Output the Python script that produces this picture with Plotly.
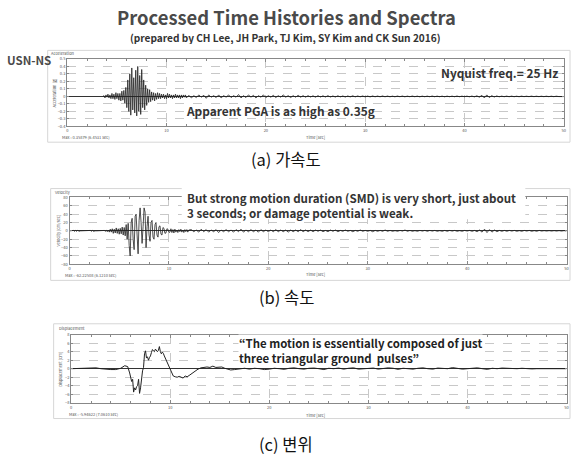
import plotly.graph_objects as go

W, H = 574, 462

# ---------------- data ----------------
time_ticks = [0, 10, 20, 30, 40, 50]

# Acceleration [g]
acc_t0, acc_dt = 3.6, 0.1
acc_strong = [
    0.00, 0.01, -0.02, 0.02, -0.01, 0.03, -0.02, 0.02, -0.03, 0.04,
    -0.03, 0.03, -0.04, 0.05, -0.03, 0.04, -0.05, 0.04, -0.06, 0.07,
    -0.05, 0.08, -0.09, 0.12, -0.15, 0.22, -0.20, 0.30, -0.25, 0.38,
    -0.18, 0.25, -0.22, 0.35, -0.26, 0.40, -0.20, 0.28, -0.24, 0.36,
    -0.15, 0.22, -0.18, 0.15, -0.12, 0.10, -0.08, 0.09, -0.07, 0.06,
    -0.05, 0.05, -0.06, 0.04, -0.04, 0.05, -0.03, 0.04, -0.03, 0.03,
    -0.02, 0.03, -0.03, 0.02, -0.03, 0.04, -0.02, 0.03, -0.02, 0.02,
    -0.03, 0.02, -0.02, 0.03, -0.02, 0.02, -0.02, 0.02, -0.03, 0.02,
    -0.02, 0.02, -0.01, 0.02, -0.02,
]
acc_tail_t0, acc_tail_dt = 12.25, 0.25
acc_tail = [
    0.015, -0.02, 0.01, -0.015, 0.02, -0.01, 0.015, -0.025, 0.02, -0.01, 0.01, -0.015, 0.02, -0.02, 0.01, -0.01,
    0.02, -0.015, 0.01, -0.01, 0.025, -0.02, 0.01, -0.015, 0.02, -0.01, 0.015, -0.02, 0.01, -0.01, 0.02, -0.015,
    0.01, -0.01, 0.015, -0.015, 0.01, -0.01, 0.02, -0.01, 0.01, -0.015, 0.01, -0.01, 0.015, -0.01, 0.01, -0.01,
    0.01, -0.008, 0.008, -0.01, 0.01, -0.008, 0.008, -0.008, 0.01, -0.008, 0.006, -0.008, 0.008, -0.006, 0.006, -0.008,
    0.006, -0.006, 0.008, -0.006, 0.006, -0.005, 0.006, -0.006, 0.005, -0.006, 0.006, -0.005, 0.005, -0.005, 0.006, -0.005,
    0.005, -0.005, 0.004, -0.005, 0.005, -0.004, 0.005, -0.005, 0.004, -0.004, 0.005, -0.004, 0.004, -0.005, 0.004, -0.004,
    0.004, -0.004, 0.005, -0.004, 0.004, -0.004, 0.004, -0.005, 0.004, -0.004, 0.004, -0.004, 0.005, -0.004, 0.004, -0.004,
    0.004, -0.005, 0.005, -0.006, 0.008, -0.01, 0.015, -0.02, 0.02, -0.015, 0.01, -0.008, 0.006, -0.005, 0.004, -0.004,
    0.004, -0.004, 0.004, -0.004, 0.003, -0.004, 0.004, -0.003, 0.003, -0.003, 0.004, -0.003, 0.003, -0.003, 0.003, -0.003,
    0.003, -0.003, 0.003, -0.003, 0.003, -0.002, 0.002, -0.002,
]
acc_ticks = [-0.4, -0.3, -0.2, -0.1, 0.0, 0.1, 0.2, 0.3, 0.4, 0.5]

# Velocity [cm/sec]
vel_t0, vel_dt = 0.0, 0.1
vel_strong = [
    0, 0, 0, 0, 1, -1, 1, -1, 1, 0,
    -1, 0, 0, 0, 0, 0, 0, 0, 0, 0,
    0, 1, -1, 1, -1, 0, 0, 0, 0, 0,
    0, 0, 0, 0, 0, 1, -1, 1, -2, 2,
    -3, 4, -3, 5, -6, 4, -5, 7, -6, 5,
    -8, 6, -7, 9, -10, 8, -12, 15, -20, 18,
    -35, -60, 20, 30, -20, -45, 35, 40, -10, -55,
    25, 55, 20, -30, 10, 55, 45, -40, 10, 35,
    -10, -25, 20, 25, -15, -20, 15, 20, -10, -15,
    10, 12, -8, -10, 8, 6, -6, -5, 5, 4,
    -4, -3, 5, -4, 3, -5, 4, -3, 2, -4,
    3, -2, 4, -3, 2, -4, 3, -2, 3, -3,
    2,
]
vel_tail_t0, vel_tail_dt = 12.25, 0.25
vel_tail = [
    3, -2, 2, -3, 4, -2, 3, -3, 2, -2, 3, -4, 2, -2, 3, -2,
    2, -3, 3, -2, 4, -3, 2, -2, 3, -2, 2, -3, 3, -2, 2, -2,
    2, -2, 3, -2, 2, -2, 2, -3, 2, -2, 2, -2, 3, -2, 2, -2,
    2, -2, 2, -1, 2, -2, 1, -2, 2, -1, 2, -2, 1, -1, 2, -1,
    1, -2, 1, -1, 2, -1, 1, -1, 1, -2, 1, -1, 1, -1, 2, -1,
    1, -1, 0.5, -1, 1, -0.5, 2, -1, 1, -1, 0.5, -1, 1, -0.5, 1, -1,
    1, -0.5, 1, -1, 0.5, -1, 1, -1, 1, -0.5, 1, -1, 0.5, -1, 1, -0.5,
    1, -1, 1, -2, 2, -3, 4, -4, 3, -3, 2, -2, 1, -1, 1, -1,
    1, -0.5, 1, -1, 0.5, -1, 1, -0.5, 1, -1, 0.5, -1, 1, -0.5, 0.5, -0.5,
    0.5, -0.5, 0.5, -0.5, 0.5, -0.5, 0.5, -0.5,
]
vel_ticks = [-80, -60, -40, -20, 0, 20, 40, 60, 80]

# Displacement [cm]
disp_t = [0, 0.5, 1.0, 1.5, 2.0, 2.5, 3.0, 3.5, 4.0, 4.5, 5.0, 5.4, 5.7, 5.9,
          6.1, 6.2, 6.3, 6.4, 6.5, 6.6, 6.7, 6.8, 6.9, 7.0, 7.1, 7.2, 7.3, 7.4,
          7.5, 7.6, 7.7, 7.8, 7.9, 8.0, 8.1, 8.2, 8.3, 8.4, 8.5, 8.6, 8.7, 8.8,
          8.9, 9.0, 9.1, 9.2, 9.3, 9.4, 9.5, 9.7, 9.9, 10.1, 10.3, 10.5, 10.7,
          10.9, 11.1, 11.3, 11.5, 11.7, 11.9, 12.2, 12.5, 12.8, 13.1, 13.4, 13.7,
          14.0, 14.3, 14.6, 14.9, 15.2, 15.5, 15.8, 16.1, 16.5, 17.0, 17.5, 18.0,
          18.5, 19.0, 19.5, 20.0]
disp_v = [0.0, 0.05, 0.15, 0.25, 0.3, 0.2, 0.0, -0.15, -0.2, -0.2, 0.1, 0.7, 0.5, -1.0,
          -3.0, -2.5, -5.5, -4.5, -5.0, -4.2, -4.0, -2.5, -5.8, -4.5, -1.5, -0.5, 0.3, 3.5,
          4.2, 2.5, 2.8, 2.0, 2.6, 3.0, 3.8, 4.5, 4.2, 4.0, 4.6, 4.3, 4.0, 4.3,
          5.2, 4.0, 3.5, 3.9, 3.6, 3.0, 2.5, 1.2, 0.3, -0.8, -1.7, -1.9, -2.0,
          -1.8, -2.0, -2.2, -1.7, -1.9, -1.6, -1.0, -0.6, -0.1, 0.2, 0.3, 0.4,
          0.3, 0.6, 0.3, 0.4, 0.4, 0.1, -0.1, -0.3, -0.2, -0.1, 0.1, -0.1,
          0.1, 0.0, -0.2, -0.1]
disp_tail_t0, disp_tail_dt = 20.5, 0.5
disp_tail = [
    0.1, 0.0, -0.15, 0.1, 0.2, 0.0, -0.1, 0.1, 0.15, 0.0,
    -0.2, 0.1, 0.0, 0.15, -0.1, 0.1, 0.2, -0.1, 0.0, 0.1,
    0.15, -0.1, 0.0, 0.2, 0.1, -0.15, 0.1, 0.0, -0.1, 0.1,
    0.2, 0.0, -0.1, 0.15, 0.1, 0.0, 0.25, 0.1, -0.1, 0.0,
    0.1, 0.2, 0.0, -0.15, 0.1, 0.0, 0.15, 0.1, -0.1, 0.0,
    0.1, 0.0, -0.05, 0.0, 0.0, 0.0, 0.0, 0.0, 0.0, 0.0,
]
disp_ticks = [-8, -6, -4, -2, 0, 2, 4, 6, 8]


def sampled(t0, dt, vals):
    return [round(t0 + i * dt, 4) for i in range(len(vals))]


acc_x = sampled(acc_t0, acc_dt, acc_strong) + sampled(acc_tail_t0, acc_tail_dt, acc_tail)
acc_y = acc_strong + acc_tail
vel_x = sampled(vel_t0, vel_dt, vel_strong) + sampled(vel_tail_t0, vel_tail_dt, vel_tail)
vel_y = vel_strong + vel_tail
disp_x = disp_t + sampled(disp_tail_t0, disp_tail_dt, disp_tail)
disp_y = disp_v + disp_tail

# ---------------- helpers ----------------
FONT = "Noto Sans CJK KR"


def px(x):
    return x / W


def py(y):
    return 1 - y / H


fig = go.Figure()
line_style = dict(color="#222222", width=0.8)
fig.add_trace(go.Scatter(x=acc_x, y=acc_y, mode="lines", line=line_style, xaxis="x", yaxis="y", showlegend=False))
fig.add_trace(go.Scatter(x=vel_x, y=vel_y, mode="lines", line=line_style, xaxis="x2", yaxis="y2", showlegend=False))
fig.add_trace(go.Scatter(x=disp_x, y=disp_y, mode="lines", line=dict(color="#222222", width=1.0), xaxis="x3", yaxis="y3", showlegend=False))


def xaxis(domain, anchor):
    return dict(domain=domain, anchor=anchor, range=[0, 50], tickvals=time_ticks,
                ticks="inside", ticklen=3, tickcolor="#888", showline=True, linecolor="#888",
                linewidth=1, mirror="ticks", showgrid=True, gridcolor="#c8c8c8", griddash="dash",
                gridwidth=1, zeroline=False, tickfont=dict(size=4, color="#555", family=FONT),
                minor=dict(dtick=2, ticks="inside", ticklen=2, tickcolor="#888", showgrid=False),
                fixedrange=True)


def yaxis(domain, anchor, rng, ticks):
    return dict(domain=domain, anchor=anchor, range=rng, tickvals=ticks,
                ticks="inside", ticklen=2, tickcolor="#888", showline=True, linecolor="#888",
                linewidth=1, mirror="ticks", showgrid=True, gridcolor="#c8c8c8", griddash="dash",
                gridwidth=1, zeroline=True, zerolinecolor="#333", zerolinewidth=1.2,
                tickfont=dict(size=4, color="#555", family=FONT), fixedrange=True)


fig.update_layout(
    width=W, height=H, margin=dict(l=0, r=0, t=0, b=0),
    paper_bgcolor="white", plot_bgcolor="white",
    font=dict(family=FONT),
    xaxis=xaxis([px(66.7), px(566.7)], "y"),
    yaxis=yaxis([py(124), py(55.7)], "x", [-0.4, 0.5], acc_ticks),
    xaxis2=xaxis([px(69), px(569.5)], "y2"),
    yaxis2=yaxis([py(263.7), py(196)], "x2", [-80, 80], vel_ticks),
    xaxis3=xaxis([px(70.7), px(569.5)], "y3"),
    yaxis3=yaxis([py(404), py(335)], "x3", [-8, 8], disp_ticks),
)

# outer chart frames
shapes = []
for (x0, y0, x1, y1) in [(47, 47, 573, 140), (50, 187, 573, 280), (53, 324, 573, 420)]:
    shapes.append(dict(type="rect", xref="paper", yref="paper", x0=px(x0), x1=px(x1), y0=py(y1), y1=py(y0),
                       line=dict(color="#d6d6d6", width=1), fillcolor="rgba(0,0,0,0)", layer="below"))
# white box behind panel (b) note
shapes.append(dict(type="rect", xref="paper", yref="paper", x0=px(182), x1=px(528), y0=py(218), y1=py(186),
                   line=dict(width=0), fillcolor="white", layer="above"))
fig.update_layout(shapes=shapes)

anns = []


def ann(text, x, y, size, color="#333", xanchor="left", angle=0, bg=None, pad=1, height=None):
    d = dict(text=text, x=px(x), y=py(y), xref="paper", yref="paper", xanchor=xanchor, yanchor="middle",
             showarrow=False, textangle=angle, font=dict(size=size, color=color, family=FONT), align="left",
             borderpad=pad)
    if bg:
        d["bgcolor"] = bg
    if height:
        d["height"] = height
    anns.append(d)


ann("<b>Processed Time Histories and Spectra</b>", 287, 13.5, 18.4, "#4a4a4a", "center", pad=0, height=22)
ann("<b>(prepared by CH Lee, JH Park, TJ Kim, SY Kim and CK Sun 2016)</b>", 286, 34, 10.1, "#333", "center", pad=0, height=13)
ann("<b>USN-NS</b>", 4, 57, 11.5, "#4a4a4a")

# tiny chart labels
ann("Acceleration", 49, 49.5, 4, "#555", pad=0)
ann("Acceleration [g]", 53, 90, 4, "#555", "center", -90, pad=0)
ann("Max : 0.35879 (6.4531 sec)", 60, 135, 4, "#555", pad=0)
ann("Time [sec]", 317, 135, 4, "#555", "center", pad=0)

ann("Velocity", 53, 190, 4, "#555", pad=0)
ann("Velocity [cm/sec]", 57, 230, 4, "#555", "center", -90, pad=0)
ann("Max : -62.22508 (6.1210 sec)", 63, 275, 4, "#555", pad=0)
ann("Time [sec]", 317, 274, 4, "#555", "center", pad=0)

ann("Displacement", 57, 328.5, 4, "#555", pad=0)
ann("Displacement [cm]", 60, 370, 4, "#555", "center", -90, pad=0)
ann("Max : -5.94622 (7.0610 sec)", 67, 415, 4, "#555", pad=0)
ann("Time [sec]", 317, 416, 4, "#555", "center", pad=0)

# notes
ann("<b>Nyquist freq.= 25 Hz</b>", 441, 69, 11.9, "#333")
ann("<b>Apparent PGA is as high as 0.35g</b>", 184, 108, 11.9, "#333")
ann("<b>But strong motion duration (SMD) is very short, just about</b><br>"
    "<b>3 seconds; or damage potential is weak.</b>", 186, 204.5, 11.6, "#333", pad=0)
ann("<b>\u201cThe motion is essentially composed of just</b><br>"
    "<b>three triangular ground  pulses\u201d</b>", 239, 351, 11.4, "#222", bg="white", pad=0)

# captions
ann("(a) 가속도", 287, 157, 16.5, "#111", "center")
ann("(b) 속도", 287, 297, 16.5, "#111", "center")
ann("(c) 변위", 287, 446, 16.5, "#111", "center")

fig.update_layout(annotations=anns)
fig.write_html("out.html", config={"displayModeBar": False},
               post_script="document.body.style.margin='0';document.body.style.padding='0';")
